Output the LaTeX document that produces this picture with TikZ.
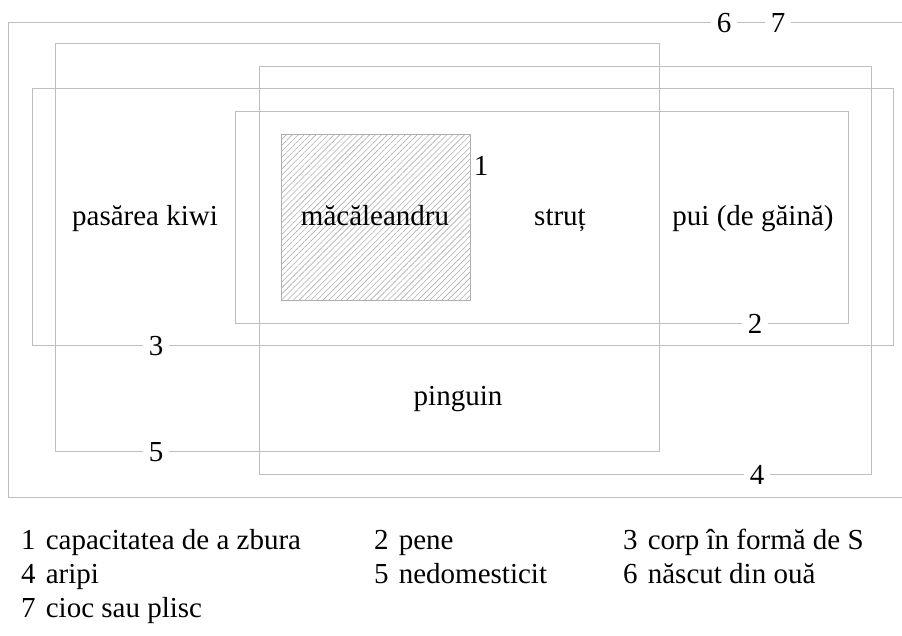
\documentclass[tikz,border=0pt]{standalone}
\usepackage{fontspec}
\setmainfont{Liberation Serif}
\usetikzlibrary{patterns.meta}
\definecolor{boxgray}{RGB}{190,190,190}
\definecolor{hatchgray}{RGB}{175,175,175}
\newcommand{\legsep}{\hspace{0.35em}}
\begin{document}
\begin{tikzpicture}[x=1pt,y=-1pt,
  setbox/.style={draw=boxgray,line width=0.9pt},
  lbl/.style={fill=white,inner xsep=6pt,inner ysep=1pt,anchor=base,font=\fontsize{29}{34}\selectfont},
  txt/.style={font=\fontsize{29}{34}\selectfont,inner sep=0pt,anchor=base},
  leg/.style={font=\fontsize{29}{34}\selectfont,anchor=base west,inner sep=0pt}]
\useasboundingbox (0,0) rectangle (902,635);
% sets
\draw[setbox] (8,22) rectangle (910,497);
\draw[setbox] (55,43) rectangle (659,451);
\draw[setbox] (259,66) rectangle (871,474);
\draw[setbox] (32,88) rectangle (893,345);
\draw[setbox] (235,111) rectangle (848,323);
\draw[draw=hatchgray,line width=0.8pt,pattern={Lines[angle=45,distance=4.2pt,line width=0.6pt]},pattern color=hatchgray] (281,134) rectangle (470,300);
% set labels
\node[lbl] (l6) at (724,32) {6};
\node[lbl] (l7) at (778,32) {7};
\node[lbl] (l5) at (156,461) {5};
\node[lbl] (l4) at (757,484) {4};
\node[lbl] (l3) at (156,355) {3};
\node[lbl] (l2) at (755,333) {2};
\node[txt] (l1) at (481,175) {1};
% elements
\node[txt] (kiwi) at (145,225) {pasărea kiwi};
\node[txt] (mac) at (375,225) {măcăleandru};
\node[txt] (strut) at (560,225) {struț};
\node[txt] (pui) at (753,225) {pui (de găină)};
\node[txt] (ping) at (458,405) {pinguin};
% legend
\node[leg] (k1) at (21,549) {1\legsep capacitatea de a zbura};
\node[leg] (k2) at (374,549) {2\legsep pene};
\node[leg] (k3) at (623,549) {3\legsep corp în formă de S};
\node[leg] (k4) at (21,583) {4\legsep aripi};
\node[leg] (k5) at (374,583) {5\legsep nedomesticit};
\node[leg] (k6) at (623,583) {6\legsep născut din ouă};
\node[leg] (k7) at (21,617) {7\legsep cioc sau plisc};
\end{tikzpicture}
\end{document}
